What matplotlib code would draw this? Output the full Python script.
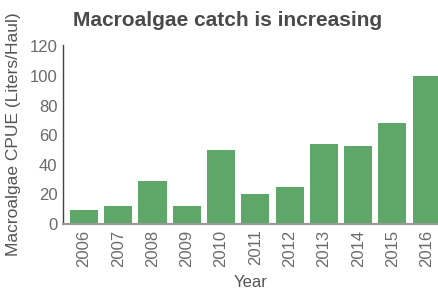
import matplotlib
matplotlib.use("Agg")
import matplotlib.pyplot as plt

years = ['2006', '2007', '2008', '2009', '2010', '2011', '2012', '2013', '2014', '2015', '2016']
cpue = [9.5, 12, 29, 12, 50, 20, 25, 54, 52.5, 68.5, 100]

plt.rcParams['font.family'] = ['Liberation Sans', 'DejaVu Sans']

fig = plt.figure(figsize=(4.38, 2.89), dpi=100)
ax = fig.add_axes([63/438, (289-224)/289, (438-63)/438, (224-45)/289])

ax.bar(range(len(years)), cpue, width=0.82, color='#5fa768')
ax.set_xlim(-0.61, 10.33)
ax.set_ylim(0, 121)
ax.set_yticks([0, 20, 40, 60, 80, 100, 120])
ax.set_xticks(range(len(years)))
ax.set_xticklabels(years, rotation=90)
ax.tick_params(length=0, labelsize=12, labelcolor='#6a6a6a', pad=4)

for s in ['top', 'right']:
    ax.spines[s].set_visible(False)
ax.spines['left'].set_color('#444444')
ax.spines['left'].set_linewidth(1)
ax.spines['bottom'].set_color('#999999')
ax.spines['bottom'].set_linewidth(1.5)

ax.set_ylabel('Macroalgae CPUE (Liters/Haul)', fontsize=12.5, color='#555555', labelpad=6)
ax.set_xlabel('Year', fontsize=12, color='#555555', labelpad=6)
fig.text(0.52, 1 - 20/289, 'Macroalgae catch is increasing', ha='center', va='center',
         fontsize=15, fontweight='bold', color='#4a4a4a')

fig.savefig('out.png', dpi=100)
